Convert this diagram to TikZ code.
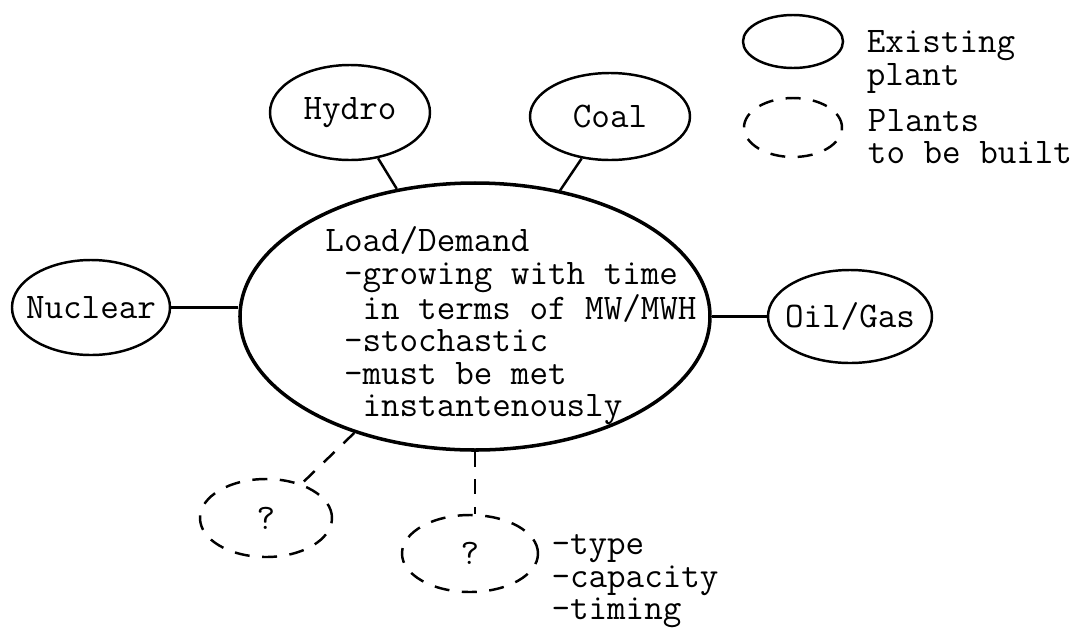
\documentclass[tikz,border=0pt]{standalone}
\usepackage{fontspec}
\usetikzlibrary{shapes.geometric,positioning}

\begin{document}
\begin{tikzpicture}[node distance=1cm, on grid,
    every node/.style={font=\ttfamily\fontsize{20.5}{18.5}\selectfont},
    plant/.style={draw, ellipse, line width=1.4pt, inner xsep=-0.22cm, inner ysep=0pt},
    newplant/.style={plant, dash pattern=on 0.3cm off 0.25cm},
    link/.style={line width=1.4pt},
    newlink/.style={link, dash pattern=on 0.3cm off 0.25cm}]
  \useasboundingbox (-9.5,-6.27) rectangle (12.06,6.33);
  % load in the middle
  \node (load) [draw, ellipse, line width=2pt, minimum width=9.4cm, minimum height=5.34cm] {};
  \node (loadtxt) [align=left, inner sep=0pt, below right=0.19cm and 0.72cm of load]
    {Load/Demand\\
     \phantom{i}-growing with time\\
     \phantom{ii}in terms of MW/MWH\\
     \phantom{i}-stochastic\\
     \phantom{i}-must be met\\
     \phantom{ii}instantenously};
  % existing plants
  \node (hydro) [plant, above left=4.08cm and 2.5cm of load, minimum width=3.2cm, minimum height=1.9cm] {Hydro};
  \node (coal) [plant, above right=4.0cm and 2.7cm of load, minimum width=3.2cm, minimum height=1.74cm] {Coal};
  \node (nuclear) [plant, above left=0.18cm and 7.68cm of load, minimum width=3.16cm, minimum height=1.9cm] {Nuclear};
  \node (oilgas) [plant, right=7.5cm of load, minimum width=3.28cm, minimum height=1.86cm] {Oil/Gas};
  % plants to be built
  \node (q1) [newplant, below left=4.03cm and 4.18cm of load, minimum width=2.64cm, minimum height=1.56cm] {?};
  \node (q2) [newplant, below left=4.74cm and 0.1cm of load, minimum width=2.72cm, minimum height=1.54cm] {?};
  \node (typetxt) [align=left, inner sep=0pt, below right=0.56cm and 3.3cm of q2] {-type\\-capacity\\-timing};
  % legend
  \node (exist) [plant, above right=5.5cm and 6.36cm of load, minimum width=2cm, minimum height=1.06cm] {};
  \node (new) [newplant, below=1.72cm of exist, minimum width=1.96cm, minimum height=1.18cm] {};
  \node (existtxt) [align=left, inner sep=0pt, below right=0.41cm and 2.96cm of exist] {Existing\\plant};
  \node (newtxt) [align=left, inner sep=0pt, below right=0.18cm and 3.54cm of new] {Plants\\to be built};

  \draw[link] (hydro) -- (load);
  \draw[link] (coal) -- (load);
  \draw[link] (nuclear.east) -- (load.west |- nuclear.east);
  \draw[link] (oilgas.west) -- (load.east |- oilgas.west);
  \draw[newlink] (load) -- (q1);
  \draw[newlink] (load.south) -- (load.south |- q2.north);
\end{tikzpicture}
\end{document}
